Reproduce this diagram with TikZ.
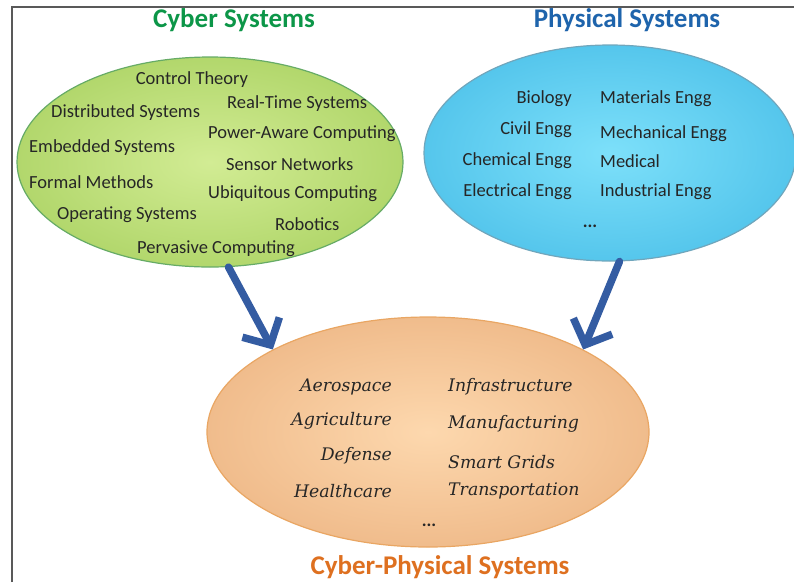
\documentclass[tikz,border=0pt]{standalone}
\usepackage{fontspec}
\setmainfont{Carlito}
\newfontfamily\fieldfont{DejaVu Serif}
\usetikzlibrary{shapes,arrows.meta,positioning}
\definecolor{cybergreen}{RGB}{12,150,72}
\definecolor{physblue}{RGB}{30,100,172}
\definecolor{cpsorange}{RGB}{222,112,32}
\definecolor{textgray}{RGB}{38,38,38}
\definecolor{arrowblue}{RGB}{52,92,162}
\tikzstyle{blob} = [ellipse,inner sep=0,line width=1.2pt]
\tikzstyle{heading} = [font=\bfseries\fontsize{27}{32}\selectfont,inner sep=0]
\tikzstyle{topic} = [font=\fontsize{18.5}{22}\selectfont,text=textgray,inner sep=0]
\tikzstyle{field} = [font=\fieldfont\itshape\fontsize{17.3}{20}\selectfont,text=textgray,inner sep=0]
\tikzstyle{flow} = [-{Straight Barb[length=20pt,width=42pt]},line width=7.5pt,arrowblue,line cap=round]

\begin{document}
\begin{tikzpicture}[x=1pt,y=-1pt]
      \useasboundingbox (0,0) rectangle (794,582);
      \draw[gray!70!black,line width=1.4pt] (12,582) -- (12,7) -- (794,7);
      % the three fields
      \node[blob,draw=green!45!black!60,inner color={rgb,255:red,210;green,236;blue,148},outer color={rgb,255:red,178;green,215;blue,108},minimum width=386pt,minimum height=210pt] (cyber) at (210,162) {};
      \node[blob,draw=cyan!60!black!70,inner color={rgb,255:red,125;green,224;blue,250},outer color={rgb,255:red,85;green,198;blue,236},minimum width=372pt,minimum height=216pt] (phys) at (610,153) {};
      \node[blob,draw=orange!50!brown!70,inner color={rgb,255:red,253;green,216;blue,174},outer color={rgb,255:red,240;green,188;blue,140},minimum width=442pt,minimum height=230pt] (cps) at (428,432) {};
      \node[heading,text=cybergreen] (cybertitle) at (234,20) {Cyber Systems};
      \node[heading,text=physblue] (phystitle) at (627,20) {Physical Systems};
      \node[heading,text=cpsorange] (cpstitle) at (440,567) {Cyber-Physical Systems};
      % cyber topics
      \node[topic] (ctrl) at (192,80) {Control Theory};
      \node[topic,anchor=west] (dist) at (51,113) {Distributed Systems};
      \node[topic,anchor=west] (rts) at (227,104) {Real-Time Systems};
      \node[topic,anchor=west] (power) at (208,134) {Power-Aware Computing};
      \node[topic,anchor=west] (emb) at (29,148) {Embedded Systems};
      \node[topic,anchor=west] (sens) at (226,164) {Sensor Networks};
      \node[topic,anchor=west] (formal) at (29,182) {Formal Methods};
      \node[topic,anchor=west] (ubi) at (208,194) {Ubiquitous Computing};
      \node[topic,anchor=west] (os) at (57,215) {Operating Systems};
      \node[topic,anchor=west] (robo) at (275,224) {Robotics};
      \node[topic] (perv) at (216,249) {Pervasive Computing};
      % physical topics
      \node[topic,anchor=east] (bio) at (572,99) {Biology};
      \node[topic,anchor=east] (civil) at (572,130) {Civil Engg};
      \node[topic,anchor=east] (chem) at (572,161) {Chemical Engg};
      \node[topic,anchor=east] (elec) at (572,192) {Electrical Engg};
      \node[topic,anchor=west] (mat) at (600,99) {Materials Engg};
      \node[topic,anchor=west] (mech) at (600,134) {Mechanical Engg};
      \node[topic,anchor=west] (med) at (600,161) {Medical};
      \node[topic,anchor=west] (ind) at (600,192) {Industrial Engg};
      \node[topic,font=\bfseries\fontsize{18}{20}\selectfont] (pdots) at (590,226) {...};
      % application domains
      \node[field,anchor=east] (aero) at (392,387) {Aerospace};
      \node[field,anchor=east] (agri) at (392,421) {Agriculture};
      \node[field,anchor=east] (def) at (392,456) {Defense};
      \node[field,anchor=east] (health) at (392,491) {Healthcare};
      \node[field,anchor=west] (infra) at (448,387) {Infrastructure};
      \node[field,anchor=west] (manu) at (448,424) {Manufacturing};
      \node[field,anchor=west] (grid) at (448,462) {Smart Grids};
      \node[field,anchor=west] (trans) at (448,491) {Transportation};
      \node[topic,font=\bfseries\fontsize{18}{20}\selectfont] (cdots) at (429,525) {...};
      % both feed into CPS
      \draw[flow] (cyber.-80) -- (cps.152);
      \draw[flow] (phys.-85) -- (cps.28);
    \end{tikzpicture}
\end{document}
